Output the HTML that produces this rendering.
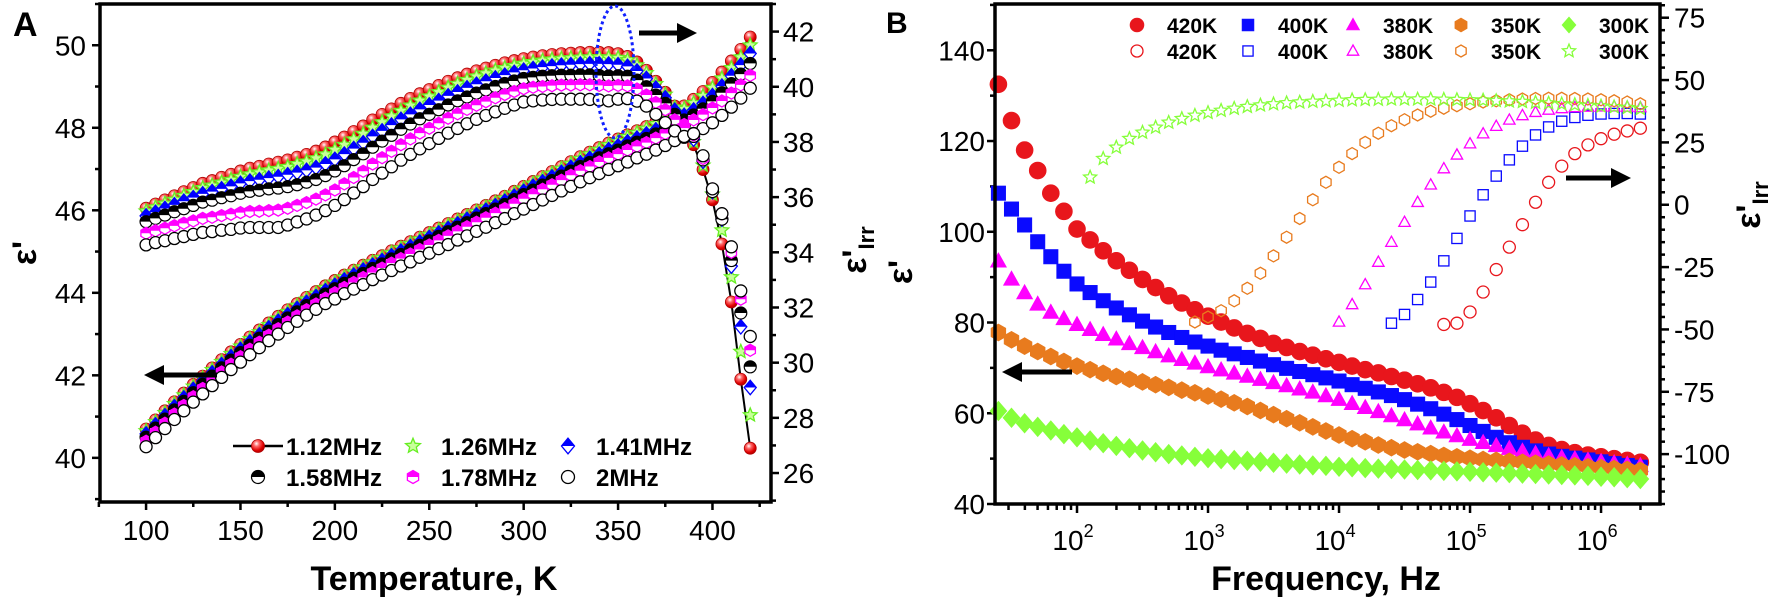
<!DOCTYPE html>
<html><head><meta charset="utf-8">
<style>
html,body{margin:0;padding:0;background:#fff;}
svg{display:block;font-family:"Liberation Sans",Arial,sans-serif;}
</style></head>
<body>
<svg id="fig" xmlns="http://www.w3.org/2000/svg" width="1772" height="605" viewBox="0 0 1772 605"></svg>
<script>
// ---------- Panel A data ----------
const tempK = [100,105,110,115,120,125,130,135,140,145,150,155,160,165,170,175,180,185,190,195,200,205,210,215,220,225,230,235,240,245,250,255,260,265,270,275,280,285,290,295,300,305,310,315,320,325,330,335,340,345,350,355,360,365,370,375,380,385,390,395,400,405,410,415,420];
const freqLabelsA = ["1.12MHz","1.26MHz","1.41MHz","1.58MHz","1.78MHz","2MHz"];
// epsilon' (left axis)
const epsA_112 = [40.7,40.92,41.14,41.36,41.57,41.78,41.98,42.18,42.38,42.57,42.75,42.93,43.1,43.27,43.43,43.59,43.74,43.89,44.03,44.17,44.3,44.43,44.55,44.67,44.79,44.9,45.02,45.13,45.24,45.35,45.46,45.57,45.68,45.79,45.9,46.01,46.12,46.23,46.34,46.46,46.58,46.7,46.82,46.94,47.06,47.18,47.3,47.41,47.52,47.63,47.73,47.83,47.93,48.03,48.14,48.26,48.39,48.53,48.69,48.88,49.1,49.35,49.62,49.9,50.2];
const epsA_126 = [40.65,40.87,41.09,41.31,41.52,41.73,41.93,42.13,42.33,42.52,42.7,42.88,43.05,43.22,43.38,43.54,43.69,43.84,43.98,44.12,44.25,44.38,44.5,44.62,44.74,44.85,44.97,45.08,45.19,45.3,45.41,45.52,45.63,45.74,45.85,45.96,46.07,46.18,46.29,46.41,46.53,46.65,46.77,46.89,47.01,47.13,47.25,47.36,47.47,47.58,47.68,47.78,47.88,47.98,48.09,48.21,48.34,48.46,48.6,48.77,48.97,49.2,49.45,49.71,50.0];
const epsA_141 = [40.58,40.8,41.02,41.24,41.45,41.66,41.86,42.06,42.26,42.45,42.63,42.81,42.98,43.15,43.31,43.47,43.62,43.77,43.91,44.05,44.18,44.31,44.43,44.55,44.67,44.78,44.9,45.01,45.12,45.23,45.34,45.45,45.56,45.67,45.78,45.89,46.0,46.11,46.22,46.34,46.46,46.58,46.69,46.81,46.92,47.04,47.15,47.26,47.36,47.47,47.56,47.66,47.75,47.85,47.95,48.07,48.19,48.3,48.43,48.59,48.78,49.01,49.26,49.52,49.8];
const epsA_158 = [40.5,40.72,40.94,41.16,41.37,41.58,41.78,41.98,42.18,42.37,42.55,42.73,42.9,43.07,43.23,43.39,43.54,43.69,43.83,43.97,44.1,44.23,44.35,44.47,44.59,44.7,44.82,44.93,45.04,45.15,45.26,45.37,45.48,45.59,45.7,45.81,45.92,46.03,46.14,46.26,46.38,46.49,46.61,46.72,46.83,46.95,47.06,47.16,47.27,47.37,47.46,47.56,47.65,47.74,47.85,47.96,48.09,48.19,48.31,48.46,48.64,48.85,49.07,49.3,49.56];
const epsA_178 = [40.4,40.62,40.84,41.06,41.27,41.48,41.68,41.88,42.08,42.27,42.45,42.63,42.8,42.97,43.13,43.29,43.44,43.59,43.73,43.87,44.0,44.13,44.25,44.37,44.49,44.6,44.72,44.83,44.94,45.05,45.16,45.27,45.38,45.49,45.6,45.71,45.82,45.93,46.04,46.16,46.28,46.39,46.51,46.62,46.73,46.85,46.96,47.06,47.17,47.27,47.36,47.46,47.55,47.64,47.75,47.86,47.99,48.08,48.19,48.32,48.48,48.65,48.84,49.04,49.27];
const epsA_200 = [40.27,40.49,40.71,40.93,41.14,41.35,41.55,41.75,41.95,42.14,42.32,42.5,42.67,42.84,43.0,43.16,43.31,43.46,43.6,43.74,43.85,43.98,44.09,44.2,44.32,44.43,44.54,44.65,44.75,44.86,44.96,45.07,45.17,45.28,45.38,45.49,45.59,45.7,45.8,45.92,46.03,46.14,46.25,46.36,46.47,46.58,46.69,46.79,46.89,46.99,47.08,47.17,47.27,47.36,47.46,47.57,47.69,47.77,47.86,47.98,48.12,48.3,48.5,48.72,48.96];
// epsilon'_Irr (right axis)
const irrA_112 = [35.6,35.75,35.9,36.05,36.2,36.35,36.5,36.6,36.72,36.83,36.95,37.05,37.12,37.2,37.27,37.35,37.45,37.55,37.67,37.82,38.0,38.18,38.38,38.58,38.8,39.0,39.2,39.4,39.58,39.75,39.9,40.05,40.2,40.33,40.46,40.58,40.68,40.78,40.87,40.95,41.02,41.08,41.13,41.17,41.2,41.22,41.24,41.25,41.25,41.24,41.2,41.1,40.9,40.6,40.2,39.8,39.3,38.7,37.9,37.0,35.9,34.3,32.2,29.4,26.9];
const irrA_126 = [35.49,35.63,35.77,35.91,36.05,36.19,36.33,36.42,36.53,36.63,36.74,36.83,36.9,36.97,37.03,37.1,37.2,37.29,37.41,37.55,37.72,37.9,38.1,38.3,38.52,38.72,38.93,39.13,39.32,39.5,39.65,39.81,39.97,40.11,40.25,40.38,40.49,40.59,40.68,40.76,40.84,40.9,40.95,40.99,41.02,41.04,41.06,41.07,41.07,41.06,41.05,40.97,40.78,40.5,40.1,39.72,39.25,38.7,38.0,37.15,36.1,34.8,33.1,30.4,28.1];
const irrA_141 = [35.32,35.45,35.59,35.72,35.85,35.98,36.12,36.2,36.3,36.39,36.5,36.58,36.63,36.69,36.74,36.81,36.89,36.97,37.07,37.2,37.37,37.56,37.76,37.97,38.2,38.4,38.61,38.82,39.0,39.18,39.34,39.5,39.67,39.81,39.96,40.09,40.2,40.32,40.42,40.52,40.6,40.66,40.71,40.75,40.78,40.8,40.82,40.83,40.83,40.82,40.8,40.74,40.57,40.3,39.95,39.6,39.15,38.65,38.1,37.3,36.2,35.2,33.5,31.3,29.1];
const irrA_158 = [35.11,35.23,35.35,35.47,35.58,35.7,35.82,35.89,35.98,36.05,36.14,36.21,36.25,36.3,36.33,36.38,36.45,36.54,36.64,36.78,36.95,37.14,37.36,37.57,37.81,38.03,38.24,38.46,38.65,38.84,39.0,39.17,39.34,39.49,39.63,39.77,39.89,40.01,40.12,40.21,40.3,40.34,40.38,40.4,40.42,40.42,40.43,40.43,40.41,40.39,40.4,40.38,40.24,40.0,39.7,39.4,39.0,38.6,38.2,37.35,36.2,35.2,33.7,31.8,29.85];
const irrA_178 = [34.69,34.78,34.87,34.96,35.05,35.14,35.23,35.27,35.33,35.38,35.44,35.48,35.49,35.51,35.53,35.6,35.7,35.8,35.93,36.08,36.26,36.48,36.71,36.94,37.2,37.43,37.66,37.9,38.11,38.32,38.5,38.68,38.86,39.02,39.18,39.33,39.46,39.6,39.72,39.83,39.93,39.98,40.01,40.04,40.06,40.06,40.07,40.07,40.05,40.03,40.05,40.03,39.92,39.7,39.43,39.17,38.8,38.5,38.25,37.4,36.3,35.4,34.0,32.3,30.45];
const irrA_200 = [34.27,34.35,34.42,34.5,34.57,34.65,34.72,34.75,34.8,34.83,34.88,34.9,34.9,34.9,34.9,34.99,35.1,35.21,35.35,35.51,35.7,35.91,36.15,36.38,36.64,36.87,37.1,37.34,37.55,37.75,37.94,38.13,38.32,38.49,38.66,38.82,38.96,39.09,39.22,39.34,39.45,39.49,39.52,39.54,39.55,39.55,39.55,39.54,39.52,39.49,39.55,39.57,39.48,39.3,39.0,38.7,38.4,38.2,38.3,37.5,36.3,35.4,34.2,32.6,30.95];
const xTicksA = [100,150,200,250,300,350,400];
const yTicksAL = [40,42,44,46,48,50];
const yTicksAR = [26,28,30,32,34,36,38,40,42];

// ---------- Panel B data ----------
const logFreqFilled = [1.4,1.5,1.6,1.7,1.8,1.9,2.0,2.1,2.2,2.3,2.4,2.5,2.6,2.7,2.8,2.9,3.0,3.1,3.2,3.3,3.4,3.5,3.6,3.7,3.8,3.9,4.0,4.1,4.2,4.3,4.4,4.5,4.6,4.7,4.8,4.9,5.0,5.1,5.2,5.3,5.4,5.5,5.6,5.7,5.8,5.9,6.0,6.1,6.2,6.3];
const epsB_420 = [132.5,124.5,118,113.5,108.5,104.5,100.6,98.2,95.8,93.6,91.5,89.5,87.7,85.9,84.3,82.8,81.4,80.1,78.8,77.6,76.5,75.4,74.5,73.6,72.8,72.0,71.2,70.4,69.6,68.9,68.1,67.3,66.5,65.6,64.6,63.5,62.1,60.6,59.0,57.3,55.6,54.1,52.9,52.0,51.3,50.8,50.4,50.0,49.6,49.2];
const epsB_400 = [108.5,105,101.5,97.8,94.5,91.3,88.5,86.6,84.8,83.2,81.7,80.3,79.0,77.8,76.7,75.7,74.8,73.9,73.1,72.3,71.5,70.7,69.9,69.2,68.5,67.8,67.1,66.3,65.5,64.7,63.9,63.0,62.0,61.0,59.8,58.6,57.3,56.0,54.7,53.5,52.5,51.7,51.0,50.5,50.1,49.7,49.3,48.9,48.5,48.1];
const epsB_380 = [93.5,89.5,86.5,84.0,82.2,80.8,79.5,78.4,77.3,76.3,75.3,74.4,73.5,72.6,71.8,71.0,70.2,69.5,68.8,68.1,67.4,66.7,66.0,65.3,64.6,63.8,63.0,62.1,61.2,60.3,59.4,58.5,57.6,56.7,55.8,55.0,54.2,53.5,52.8,52.2,51.6,51.1,50.6,50.2,49.9,49.6,49.3,49.0,48.7,48.4];
const epsB_350 = [77.8,76.2,74.8,73.6,72.5,71.4,70.4,69.6,68.8,68.1,67.5,66.9,66.3,65.7,65.1,64.5,63.8,63.1,62.3,61.5,60.6,59.7,58.8,57.9,57.0,56.1,55.2,54.4,53.7,53.0,52.4,51.9,51.5,51.1,50.7,50.4,50.1,49.8,49.6,49.4,49.2,49.0,48.8,48.6,48.4,48.2,48.0,47.8,47.6,47.4];
const epsB_300 = [60.5,59.0,57.8,57.0,56.2,55.4,54.7,54.0,53.4,52.8,52.3,51.8,51.4,51.0,50.7,50.4,50.1,49.9,49.7,49.5,49.3,49.1,48.9,48.7,48.5,48.4,48.2,48.1,47.9,47.8,47.7,47.6,47.5,47.4,47.3,47.2,47.1,47.0,46.9,46.8,46.7,46.6,46.5,46.4,46.3,46.2,46.0,45.9,45.7,45.5];
const logFreq300 = [2.1,2.2,2.3,2.4,2.5,2.6,2.7,2.8,2.9,3.0,3.1,3.2,3.3,3.4,3.5,3.6,3.7,3.8,3.9,4.0,4.1,4.2,4.3,4.4,4.5,4.6,4.7,4.8,4.9,5.0,5.1,5.2,5.3,5.4,5.5,5.6,5.7,5.8,5.9,6.0,6.1,6.2,6.3];
const irrB_300 = [11,18.5,23,26.5,29,31,33,34.5,35.8,36.9,37.8,38.6,39.3,39.9,40.4,40.8,41.1,41.4,41.6,41.8,42.0,42.1,42.2,42.3,42.3,42.3,42.3,42.2,42.1,42.0,41.9,41.7,41.5,41.3,41.0,40.7,40.4,40.1,39.8,39.5,39.2,38.9,38.5];
const logFreq350 = [2.9,3.0,3.1,3.2,3.3,3.4,3.5,3.6,3.7,3.8,3.9,4.0,4.1,4.2,4.3,4.4,4.5,4.6,4.7,4.8,4.9,5.0,5.1,5.2,5.3,5.4,5.5,5.6,5.7,5.8,5.9,6.0,6.1,6.2,6.3];
const irrB_350 = [-47,-45,-42.5,-38.5,-33.5,-27.5,-20.5,-13,-5.5,2,9,15,20.5,25,28.7,31.7,34.1,36,37.5,38.7,39.7,40.5,41.2,41.7,42.1,42.4,42.6,42.7,42.7,42.6,42.4,42.1,41.7,41.2,40.5];
const logFreq380 = [4.0,4.1,4.2,4.3,4.4,4.5,4.6,4.7,4.8,4.9,5.0,5.1,5.2,5.3,5.4,5.5,5.6,5.7,5.8,5.9,6.0,6.1,6.2,6.3];
const irrB_380 = [-47,-40,-32,-23,-15,-7,1,8,14.5,20,24.5,28.5,31.5,34,35.8,37.1,38.0,38.6,39.0,39.2,39.3,39.3,39.2,39.0];
const logFreq400 = [4.4,4.5,4.6,4.7,4.8,4.9,5.0,5.1,5.2,5.3,5.4,5.5,5.6,5.7,5.8,5.9,6.0,6.1,6.2,6.3];
const irrB_400 = [-47.5,-44,-38,-31,-22.5,-13.5,-4.5,4,11.5,18,23.5,28,31.2,33.5,35,35.9,36.4,36.6,36.6,36.4];
const logFreq420 = [4.8,4.9,5.0,5.1,5.2,5.3,5.4,5.5,5.6,5.7,5.8,5.9,6.0,6.1,6.2,6.3];
const irrB_420 = [-48,-47.5,-43,-35,-26,-17,-8,1,9,15.5,20.5,24,26.5,28.3,29.6,30.7];
const xDecadesB = [2,3,4,5,6];
const yTicksBL = [40,60,80,100,120,140];
const yTicksBR = ["75","50","25","0","-25","-50","-75","-100"];

// ---------- helpers ----------
const NS = "http://www.w3.org/2000/svg";
const svg = document.getElementById('fig');
function mk(tag, parent){ const e=document.createElementNS(NS,tag); (parent||svg).appendChild(e); return e; }
function lin(d0,d1,r0,r1){ return v => r0 + (v-d0)*(r1-r0)/(d1-d0); }

const xA = lin(75.6,431,100,771);
const yAL = lin(38.93,51.0,502,4);
const yAR = lin(24.95,43.0,502,4);
const xB = lin(1.374,6.45,995,1660);
const yBL = lin(40,150.2,504,4);
const yBR = lin(-120,80.5,504,4);

function line(g,x1,y1,x2,y2,w){ const l=mk('line',g); l.setAttribute('x1',x1);l.setAttribute('y1',y1);l.setAttribute('x2',x2);l.setAttribute('y2',y2);l.setAttribute('stroke','#000');l.setAttribute('stroke-width',w); return l; }
function text(g,x,y,s,size,anchor,weight){ const t=mk('text',g); t.setAttribute('x',x);t.setAttribute('y',y);t.setAttribute('font-size',size);t.setAttribute('text-anchor',anchor||'middle'); if(weight)t.setAttribute('font-weight',weight); t.textContent=s; return t; }

function starPts(cx,cy,r){ let p=[]; for(let i=0;i<10;i++){ const a=-Math.PI/2+i*Math.PI/5; const rr=i%2?r*0.45:r; p.push((cx+rr*Math.cos(a)).toFixed(1)+','+(cy+rr*Math.sin(a)).toFixed(1)); } return p.join(' '); }
function hexPts(cx,cy,r){ let p=[]; for(let i=0;i<6;i++){ const a=Math.PI/6+i*Math.PI/3; p.push((cx+r*Math.cos(a)).toFixed(1)+','+(cy+r*Math.sin(a)).toFixed(1)); } return p.join(' '); }

function marker(g,kind,cx,cy,r){
  let e;
  if(kind==='ball'){
    e=mk('circle',g); e.setAttribute('cx',cx);e.setAttribute('cy',cy);e.setAttribute('r',r);e.setAttribute('fill','url(#ballGrad)');e.setAttribute('stroke','#b00000');e.setAttribute('stroke-width',0.8);
  } else if(kind==='starOpenG'){
    e=mk('polygon',g); e.setAttribute('points',starPts(cx,cy,r*1.2)); e.setAttribute('fill','#c8ff9a'); e.setAttribute('stroke','#66ee22'); e.setAttribute('stroke-width',1.3);
  } else if(kind==='halfDiamond'){
    e=mk('polygon',g); e.setAttribute('points',`${cx},${cy-r*1.2} ${cx+r},${cy} ${cx},${cy+r*1.2} ${cx-r},${cy}`); e.setAttribute('fill','#fff'); e.setAttribute('stroke','#0000ff'); e.setAttribute('stroke-width',1.3);
    const h=mk('polygon',g); h.setAttribute('points',`${cx},${cy-r*1.2} ${cx+r},${cy} ${cx-r},${cy}`); h.setAttribute('fill','#0000ff');
  } else if(kind==='halfCircleK'){
    e=mk('circle',g); e.setAttribute('cx',cx);e.setAttribute('cy',cy);e.setAttribute('r',r);e.setAttribute('fill','#fff');e.setAttribute('stroke','#000');e.setAttribute('stroke-width',1.2);
    const h=mk('path',g); h.setAttribute('d',`M${cx-r},${cy} A${r},${r} 0 0 1 ${cx+r},${cy} Z`); h.setAttribute('fill','#000');
  } else if(kind==='halfHexM'){
    e=mk('polygon',g); e.setAttribute('points',hexPts(cx,cy,r)); e.setAttribute('fill','#fff'); e.setAttribute('stroke','#ff00ff'); e.setAttribute('stroke-width',1.3);
    const h=mk('polygon',g); h.setAttribute('points',`${cx-r*0.866},${cy} ${cx-r*0.866},${cy-r/2} ${cx},${cy-r} ${cx+r*0.866},${cy-r/2} ${cx+r*0.866},${cy}`); h.setAttribute('fill','#ff00ff');
  } else if(kind==='openK'){
    e=mk('circle',g); e.setAttribute('cx',cx);e.setAttribute('cy',cy);e.setAttribute('r',r);e.setAttribute('fill','#fff');e.setAttribute('stroke','#000');e.setAttribute('stroke-width',1.3);
  } else {
    const [shape,color,fill]=kind.split('|');
    const f = fill==='1'?color:'none';
    if(shape==='c'){ e=mk('circle',g); e.setAttribute('cx',cx);e.setAttribute('cy',cy);e.setAttribute('r',r); }
    else if(shape==='s'){ e=mk('rect',g); e.setAttribute('x',cx-r*0.85);e.setAttribute('y',cy-r*0.85);e.setAttribute('width',r*1.7);e.setAttribute('height',r*1.7); }
    else if(shape==='t'){ e=mk('polygon',g); e.setAttribute('points',`${cx},${cy-r} ${cx+r*0.95},${cy+r*0.7} ${cx-r*0.95},${cy+r*0.7}`); }
    else if(shape==='h'){ e=mk('polygon',g); e.setAttribute('points',hexPts(cx,cy,r)); }
    else if(shape==='d'){ e=mk('polygon',g); e.setAttribute('points',`${cx},${cy-r*1.15} ${cx+r},${cy} ${cx},${cy+r*1.15} ${cx-r},${cy}`); }
    else if(shape==='st'){ e=mk('polygon',g); e.setAttribute('points',starPts(cx,cy,r*1.15)); }
    e.setAttribute('fill',f); e.setAttribute('stroke',color); e.setAttribute('stroke-width',fill==='1'?0.6:1.3);
  }
  return e;
}

const defs=mk('defs');
defs.innerHTML='<radialGradient id="ballGrad" cx="0.38" cy="0.32" r="0.7"><stop offset="0" stop-color="#ffffff"/><stop offset="0.3" stop-color="#ff6a6a"/><stop offset="0.75" stop-color="#e00000"/><stop offset="1" stop-color="#b00000"/></radialGradient>';

function arrow(g,xTail,xHead,y){
  const dir = xHead>xTail?1:-1;
  line(g,xTail,y,xHead-dir*16,y,5);
  const p=mk('polygon',g); p.setAttribute('points',`${xHead},${y} ${xHead-dir*20},${y-10} ${xHead-dir*20},${y+10}`); p.setAttribute('fill','#000');
}

// ================= PANEL A =================
const gA = mk('g');  
const panelLabelA = text(gA,13,36,'A',34,'start','bold');



const axA = mk('g',gA);  
for(let k=75;k<=425;k+=25){ const x=xA(k); const major=(k%50===0); line(axA,x,502,x,502+(major?8:5),2.5); }
xTicksA.forEach(k=>{ const t=text(axA,xA(k),540,String(k),28,'middle');   });
for(let v=39;v<=51;v+=1){ const y=yAL(v); const major=(v%2===0); line(axA,100,y,100-(major?8:5),y,2.5); }
yTicksAL.forEach(v=>{ const t=text(axA,86,yAL(v)+10,String(v),28,'end');   });
for(let v=25;v<=43;v+=1){ const y=yAR(v); const major=(v%2===0); line(axA,771,y,771+(major?8:5),y,2.5); }
yTicksAR.forEach(v=>{ const t=text(axA,783,yAR(v)+10,String(v),28,'start');   });

const xTitleA = text(axA,434,590,'Temperature, K',34,'middle','bold');


const yTitleA = mk('text',axA); yTitleA.setAttribute('transform','translate(36,253) rotate(-90)'); yTitleA.setAttribute('font-size',34); yTitleA.setAttribute('font-weight','bold'); yTitleA.setAttribute('text-anchor','middle'); yTitleA.textContent="ε'";


const yTitleAR = mk('text',axA); yTitleAR.setAttribute('transform','translate(866,250) rotate(-90)'); yTitleAR.setAttribute('font-size',34); yTitleAR.setAttribute('font-weight','bold'); yTitleAR.setAttribute('text-anchor','middle'); yTitleAR.innerHTML="ε'<tspan font-size='22' dy='8'>Irr</tspan>";



const seriesA = [
  {name:'1.12MHz', kind:'ball', eps:epsA_112, irr:irrA_112},
  {name:'1.26MHz', kind:'starOpenG', eps:epsA_126, irr:irrA_126},
  {name:'1.41MHz', kind:'halfDiamond', eps:epsA_141, irr:irrA_141},
  {name:'1.58MHz', kind:'halfCircleK', eps:epsA_158, irr:irrA_158},
  {name:'1.78MHz', kind:'halfHexM', eps:epsA_178, irr:irrA_178},
  {name:'2MHz', kind:'openK', eps:epsA_200, irr:irrA_200}
];
const ln1 = mk('polyline',gA); ln1.setAttribute('points',tempK.map((k,i)=>xA(k)+','+yAL(epsA_112[i])).join(' ')); ln1.setAttribute('fill','none'); ln1.setAttribute('stroke','#000'); ln1.setAttribute('stroke-width',2);


const ln2 = mk('polyline',gA); ln2.setAttribute('points',tempK.map((k,i)=>xA(k)+','+yAR(irrA_112[i])).join(' ')); ln2.setAttribute('fill','none'); ln2.setAttribute('stroke','#000'); ln2.setAttribute('stroke-width',2);


seriesA.forEach(s=>{
  const g=mk('g',gA);
  
  
  tempK.forEach((k,i)=>{ const m=marker(g,s.kind,xA(k),yAL(s.eps[i]),6);
    
     });
  tempK.forEach((k,i)=>{ const m=marker(g,s.kind,xA(k),yAR(s.irr[i]),6);
    
     });
});

const frameA = mk('rect',gA); frameA.setAttribute('x',100); frameA.setAttribute('y',4); frameA.setAttribute('width',671); frameA.setAttribute('height',498); frameA.setAttribute('fill','none'); frameA.setAttribute('stroke','#000'); frameA.setAttribute('stroke-width',3.5);



const ell = mk('ellipse',gA); ell.setAttribute('cx',615); ell.setAttribute('cy',72); ell.setAttribute('rx',19); ell.setAttribute('ry',66); ell.setAttribute('fill','none'); ell.setAttribute('stroke','#1020ff'); ell.setAttribute('stroke-width',3); ell.setAttribute('stroke-dasharray','3,3');


const arA1=mk('g',gA);   arrow(arA1,639,697,33);
const arA2=mk('g',gA);   arrow(arA2,217,144,375);

const legA = mk('g',gA);  
const legPos = [[258,446],[413,446],[568,446],[258,477],[413,477],[568,477]];
line(legA,233,446,283,446,2.5);
seriesA.forEach((s,i)=>{
  const g=mk('g',legA);
  
  
  marker(g,s.kind,legPos[i][0],legPos[i][1],6.5);
  text(g,legPos[i][0]+28,legPos[i][1]+9,s.name,24,'start','bold');
});

// ================= PANEL B =================
const gB = mk('g');  
const panelLabelB = text(gB,886,33,'B',30,'start','bold');


const axB = mk('g',gB);  
for(let d=1;d<=6;d++){ for(let m=1;m<=9;m++){ const lv=d+Math.log10(m); if(lv<1.374||lv>6.45) continue; const x=xB(lv); line(axB,x,504,x,504+(m===1?9:6),2.5); } }
xDecadesB.forEach(d=>{ const t=mk('text',axB); t.setAttribute('x',xB(d)-4); t.setAttribute('y',550); t.setAttribute('font-size',28); t.setAttribute('text-anchor','middle'); t.innerHTML='10<tspan font-size="18" dy="-13">'+d+'</tspan>';
  
   });
for(let v=40;v<=150;v+=10){ const y=yBL(v); line(axB,995,y,995-(v%20===0?8:5),y,2.5); }
yTicksBL.forEach(v=>{ const t=text(axB,985,yBL(v)+10,String(v),28,'end');   });
for(let v=-120;v<=80;v+=5){ const y=yBR(v); line(axB,1660,y,1660+(v%25===0?9:5),y,2.5); }
yTicksBR.forEach(s=>{ const t=text(axB,1674,yBR(Number(s))+10,s,28,'start');   });
const xTitleB = text(axB,1326,590,'Frequency, Hz',34,'middle','bold');


const yTitleB = mk('text',axB); yTitleB.setAttribute('transform','translate(912,272) rotate(-90)'); yTitleB.setAttribute('font-size',34); yTitleB.setAttribute('font-weight','bold'); yTitleB.setAttribute('text-anchor','middle'); yTitleB.textContent="ε'";


const yTitleBR = mk('text',axB); yTitleBR.setAttribute('transform','translate(1760,205) rotate(-90)'); yTitleBR.setAttribute('font-size',34); yTitleBR.setAttribute('font-weight','bold'); yTitleBR.setAttribute('text-anchor','middle'); yTitleBR.innerHTML="ε'<tspan font-size='22' dy='8'>Irr</tspan>";



const filledB = [
  {name:'420K', kind:'c|#e8161c|1', vals:epsB_420},
  {name:'400K', kind:'s|#0a0aff|1', vals:epsB_400},
  {name:'380K', kind:'t|#ff00ff|1', vals:epsB_380},
  {name:'350K', kind:'h|#e87b1e|1', vals:epsB_350},
  {name:'300K', kind:'d|#86ff3a|1', vals:epsB_300}
];
filledB.forEach(s=>{
  const g=mk('g',gB);
  
  
  logFreqFilled.forEach((lf,i)=>{ const m=marker(g,s.kind,xB(lf),yBL(s.vals[i]),8.5);
    
     });
});
const openB = [
  {name:'420K', kind:'c|#e8161c|0', lf:logFreq420, vals:irrB_420},
  {name:'400K', kind:'s|#0a0aff|0', lf:logFreq400, vals:irrB_400},
  {name:'380K', kind:'t|#ff00ff|0', lf:logFreq380, vals:irrB_380},
  {name:'350K', kind:'h|#e87b1e|0', lf:logFreq350, vals:irrB_350},
  {name:'300K', kind:'st|#86ff3a|0', lf:logFreq300, vals:irrB_300}
];
openB.forEach(s=>{
  const g=mk('g',gB);
  
  
  s.lf.forEach((lf,i)=>{ const m=marker(g,s.kind,xB(lf),yBR(s.vals[i]),6);
    
     });
});
const frameB = mk('rect',gB); frameB.setAttribute('x',995); frameB.setAttribute('y',4); frameB.setAttribute('width',665); frameB.setAttribute('height',500); frameB.setAttribute('fill','none'); frameB.setAttribute('stroke','#000'); frameB.setAttribute('stroke-width',3.5);


const arB1=mk('g',gB);   arrow(arB1,1072,1002,372);
const arB2=mk('g',gB);   arrow(arB2,1566,1631,178);

const legB = mk('g',gB);  
const legBx = [1137,1248,1353,1461,1569];
filledB.forEach((s,i)=>{
  const g=mk('g',legB);
  
  
  marker(g,s.kind,legBx[i],25,7);
  text(g,legBx[i]+30,33,s.name,21,'start','bold');
});
openB.forEach((s,i)=>{
  const g=mk('g',legB);
  
  
  marker(g,s.kind,legBx[i],51,6);
  text(g,legBx[i]+30,59,s.name,21,'start','bold');
});
</script>
</body></html>
